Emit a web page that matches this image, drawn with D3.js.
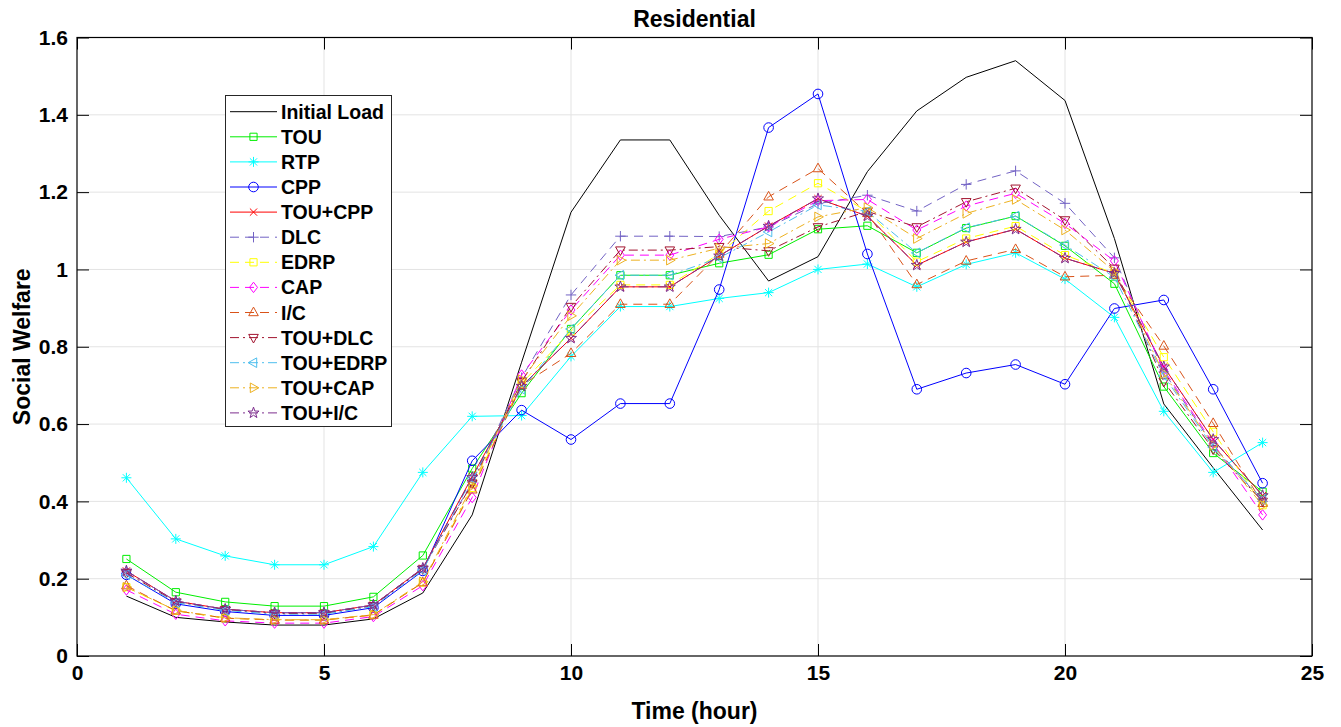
<!DOCTYPE html>
<html>
<head>
<meta charset="utf-8">
<script src="https://cdn.jsdelivr.net/npm/d3@7"></script>
<style>
  body { margin: 0; background: #fff; }
  svg { display: block; }
  text { font-family: "Liberation Sans", Arial, Helvetica, sans-serif; font-weight: bold; }
</style>
</head>
<body>
<svg id="chart" width="1341" height="727"></svg>
<script>
// data
var hours = d3.range(1, 25);

var initialLoad = [0.155,0.100,0.088,0.080,0.080,0.096,0.163,0.365,0.760,1.148,1.335,1.335,1.140,0.970,1.033,1.253,1.410,1.497,1.540,1.437,1.080,0.652,0.487,0.326];
var tou        = [0.251,0.165,0.140,0.129,0.129,0.153,0.260,0.485,0.680,0.846,0.985,0.985,1.016,1.038,1.104,1.113,1.043,1.107,1.138,1.061,0.963,0.697,0.525,0.425];
var rtp        = [0.461,0.303,0.259,0.236,0.236,0.283,0.475,0.620,0.622,0.775,0.904,0.904,0.925,0.940,1.000,1.014,0.955,1.013,1.043,0.975,0.876,0.633,0.475,0.552];
var cpp        = [0.210,0.135,0.115,0.105,0.105,0.125,0.220,0.505,0.636,0.560,0.653,0.653,0.948,1.367,1.454,1.040,0.690,0.732,0.754,0.703,0.899,0.921,0.690,0.447];
var touCpp     = [0.220,0.142,0.121,0.112,0.112,0.132,0.227,0.464,0.698,0.822,0.955,0.955,1.035,1.112,1.183,1.138,1.011,1.071,1.104,1.029,0.990,0.748,0.560,0.415];
var dlc        = [0.220,0.142,0.121,0.112,0.112,0.132,0.227,0.450,0.720,0.934,1.086,1.086,1.085,1.110,1.170,1.192,1.151,1.220,1.255,1.171,1.030,0.735,0.545,0.400];
var edrp       = [0.178,0.117,0.098,0.093,0.093,0.106,0.190,0.435,0.705,0.840,0.960,0.960,1.040,1.151,1.223,1.150,1.020,1.080,1.112,1.037,0.990,0.773,0.580,0.390];
var cap        = [0.171,0.108,0.091,0.085,0.085,0.102,0.182,0.410,0.727,0.895,1.037,1.037,1.078,1.110,1.178,1.181,1.102,1.164,1.197,1.119,1.022,0.740,0.550,0.365];
var ic         = [0.182,0.117,0.098,0.093,0.093,0.106,0.190,0.430,0.700,0.783,0.910,0.910,1.040,1.188,1.261,1.145,0.961,1.022,1.052,0.981,0.985,0.802,0.602,0.395];
var touDlc     = [0.215,0.140,0.120,0.110,0.110,0.130,0.225,0.447,0.710,0.904,1.050,1.050,1.059,1.048,1.110,1.150,1.110,1.175,1.210,1.128,1.003,0.710,0.535,0.400];
var touEdrp    = [0.210,0.138,0.118,0.108,0.108,0.128,0.222,0.460,0.690,0.846,0.985,0.985,1.030,1.097,1.167,1.150,1.043,1.108,1.138,1.063,0.980,0.725,0.540,0.405];
var touCap     = [0.178,0.118,0.099,0.094,0.094,0.107,0.192,0.440,0.715,0.880,1.024,1.024,1.055,1.067,1.136,1.160,1.080,1.145,1.181,1.102,0.995,0.730,0.545,0.390];
var touIc      = [0.220,0.142,0.121,0.112,0.112,0.132,0.227,0.462,0.698,0.822,0.955,0.955,1.035,1.112,1.183,1.138,1.011,1.071,1.104,1.029,0.990,0.748,0.560,0.415];

var seriesNames = ["Initial Load","TOU","RTP","CPP","TOU+CPP","DLC","EDRP","CAP","I/C","TOU+DLC","TOU+EDRP","TOU+CAP","TOU+I/C"];
var seriesValues = [initialLoad, tou, rtp, cpp, touCpp, dlc, edrp, cap, ic, touDlc, touEdrp, touCap, touIc];

var xTicks = [0, 5, 10, 15, 20, 25];
var yTicks = [0, 0.2, 0.4, 0.6, 0.8, 1, 1.2, 1.4, 1.6];

// styles (colour, dash, marker) per series
var styles = [
  {color: "#000000", dash: null,        marker: null},
  {color: "#00ee00", dash: null,        marker: "square"},
  {color: "#00ffff", dash: null,        marker: "asterisk"},
  {color: "#0000ff", dash: null,        marker: "circle"},
  {color: "#ff0000", dash: null,        marker: "x"},
  {color: "#7262c4", dash: "9,6",       marker: "plus"},
  {color: "#ffff00", dash: "9,6",       marker: "square"},
  {color: "#ff00ff", dash: "9,6",       marker: "diamond"},
  {color: "#D95319", dash: "9,6",       marker: "triUp"},
  {color: "#A2142F", dash: "9,4,2,4",   marker: "triDown"},
  {color: "#4DBEEE", dash: "9,4,2,4",   marker: "triLeft"},
  {color: "#EDB120", dash: "9,4,2,4",   marker: "triRight"},
  {color: "#7E2F8E", dash: "9,4,2,4",   marker: "star"}
];

function starPath(ro, ri) {
  var p = [];
  for (var k = 0; k < 10; k++) {
    var r = (k % 2 == 0) ? ro : ri;
    var a = -Math.PI / 2 + k * Math.PI / 5;
    p.push((r * Math.cos(a)).toFixed(2) + "," + (r * Math.sin(a)).toFixed(2));
  }
  return "M" + p.join("L") + "Z";
}

function markerPath(m) {
  switch (m) {
    case "square":   return "M-3.6,-3.6H3.6V3.6H-3.6Z";
    case "circle":   return "M4.8,0A4.8,4.8 0 1,1 -4.8,0A4.8,4.8 0 1,1 4.8,0Z";
    case "diamond":  return "M0,-5.2L4,0L0,5.2L-4,0Z";
    case "triUp":    return "M0,-5.4L4.8,3.2L-4.8,3.2Z";
    case "triDown":  return "M0,5.4L4.8,-3.2L-4.8,-3.2Z";
    case "triLeft":  return "M-5.4,0L3.2,-4.8L3.2,4.8Z";
    case "triRight": return "M5.4,0L-3.2,-4.8L-3.2,4.8Z";
    case "plus":     return "M-5.2,0H5.2M0,-5.2V5.2";
    case "x":        return "M-3.6,-3.6L3.6,3.6M-3.6,3.6L3.6,-3.6";
    case "asterisk": return "M-5,0H5M0,-5V5M-3.6,-3.6L3.6,3.6M-3.6,3.6L3.6,-3.6";
    case "star":     return starPath(5.8, 2.3);
  }
  return "";
}

var svg = d3.select("#chart");
var plotLeft = 77, plotRight = 1312, plotTop = 37.5, plotBottom = 656;

var x = d3.scaleLinear().domain([0, 25]).range([plotLeft, plotRight]);
var y = d3.scaleLinear().domain([0, 1.6]).range([plotBottom, plotTop]);

// grid
svg.append("g").selectAll("line").data(xTicks.slice(1, -1)).enter().append("line")
  .attr("x1", function(d) { return x(d); }).attr("x2", function(d) { return x(d); })
  .attr("y1", plotTop).attr("y2", plotBottom)
  .attr("stroke", "#e3e3e3").attr("stroke-width", 1);
svg.append("g").selectAll("line").data(yTicks.slice(1, -1)).enter().append("line")
  .attr("y1", function(d) { return y(d); }).attr("y2", function(d) { return y(d); })
  .attr("x1", plotLeft).attr("x2", plotRight)
  .attr("stroke", "#e3e3e3").attr("stroke-width", 1);

// series
var line = d3.line()
  .x(function(d, i) { return x(hours[i]); })
  .y(function(d) { return y(d); });

var plot = svg.append("g");
seriesValues.forEach(function(vals, s) {
  var st = styles[s];
  plot.append("path")
    .attr("d", line(vals))
    .attr("fill", "none")
    .attr("stroke", st.color)
    .attr("stroke-width", 1)
    .attr("stroke-dasharray", st.dash);
  if (st.marker) {
    plot.append("g").selectAll("path").data(vals).enter().append("path")
      .attr("transform", function(d, i) { return "translate(" + x(hours[i]) + "," + y(d) + ")"; })
      .attr("d", markerPath(st.marker))
      .attr("fill", "none")
      .attr("stroke", st.color)
      .attr("stroke-width", 1);
  }
});

// axes (MATLAB style, ticks inward, box on)
function styleAxis(g) {
  g.select(".domain").remove();
  g.selectAll(".tick line").attr("stroke", "#000").attr("stroke-width", 1);
  g.selectAll("text").attr("font-family", "Liberation Sans, Arial, sans-serif")
    .attr("font-weight", "bold").attr("font-size", 21).attr("fill", "#000");
}

svg.append("g").attr("transform", "translate(0," + plotBottom + ")")
  .call(d3.axisBottom(x).tickValues(xTicks).tickSize(-12).tickPadding(9).tickFormat(d3.format("d")))
  .call(styleAxis);
svg.append("g").attr("transform", "translate(0," + plotTop + ")")
  .call(d3.axisTop(x).tickValues(xTicks).tickSize(-12).tickFormat(""))
  .call(styleAxis);
svg.append("g").attr("transform", "translate(" + plotLeft + ",0)")
  .call(d3.axisLeft(y).tickValues(yTicks).tickSize(-12).tickPadding(9).tickFormat(function(d) { return d3.format("~g")(d); }))
  .call(styleAxis);
svg.append("g").attr("transform", "translate(" + plotRight + ",0)")
  .call(d3.axisRight(y).tickValues(yTicks).tickSize(-12).tickFormat(""))
  .call(styleAxis);

svg.append("rect")
  .attr("x", plotLeft).attr("y", plotTop)
  .attr("width", plotRight - plotLeft).attr("height", plotBottom - plotTop)
  .attr("fill", "none").attr("stroke", "#000").attr("stroke-width", 1.2);

// labels
svg.append("text").attr("x", (plotLeft + plotRight) / 2).attr("y", 27)
  .attr("text-anchor", "middle").attr("font-size", 23).text("Residential");
svg.append("text").attr("x", (plotLeft + plotRight) / 2).attr("y", 719)
  .attr("text-anchor", "middle").attr("font-size", 23).text("Time (hour)");
svg.append("text").attr("transform", "translate(30," + (plotBottom + plotTop) / 2 + ") rotate(-90)")
  .attr("text-anchor", "middle").attr("font-size", 23).text("Social Welfare");

// legend
var lg = svg.append("g");
lg.append("rect").attr("x", 225.5).attr("y", 95.5).attr("width", 166).attr("height", 331)
  .attr("fill", "#fff").attr("stroke", "#262626").attr("stroke-width", 1);
seriesNames.forEach(function(name, s) {
  var st = styles[s];
  var ly = 111.7 + s * 25.1;
  lg.append("line").attr("x1", 230).attr("x2", 277).attr("y1", ly).attr("y2", ly)
    .attr("stroke", st.color).attr("stroke-width", 1).attr("stroke-dasharray", st.dash);
  if (st.marker) {
    lg.append("path").attr("transform", "translate(253.5," + ly + ")")
      .attr("d", markerPath(st.marker)).attr("fill", "none")
      .attr("stroke", st.color).attr("stroke-width", 1);
  }
  lg.append("text").attr("x", 281).attr("y", ly).attr("dy", "0.36em")
    .attr("font-size", 19.5).text(name);
});
</script>
</body>
</html>
